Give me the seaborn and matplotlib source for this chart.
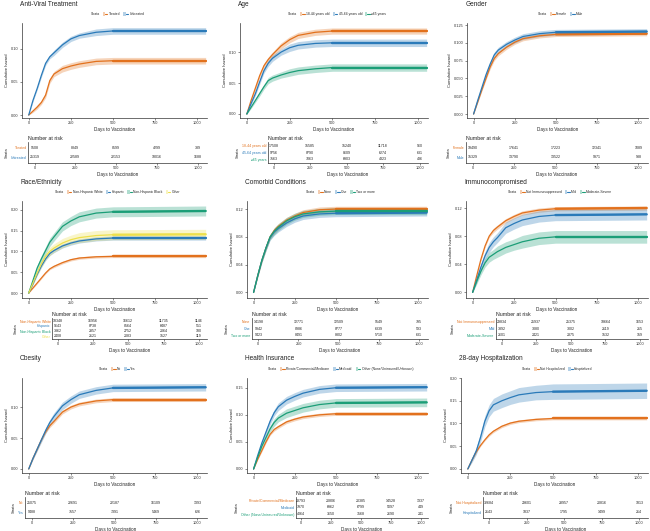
import numpy as np
import pandas as pd
import matplotlib
matplotlib.use('Agg')
import matplotlib.pyplot as plt
import seaborn as sns
from matplotlib.patches import Patch
from matplotlib.lines import Line2D
from matplotlib.legend_handler import HandlerTuple

sns.set_theme(style="ticks")
plt.rcParams['font.family'] = ['Liberation Sans', 'DejaVu Sans']

NAR = "#E2711D"
AZU = "#2A7AB9"
VER = "#1B9E77"
AMA = "#EDE04C"

# tiempos comunes para las curvas
dias = [0, 25, 50, 75, 100, 125, 150, 200, 250, 300, 400, 500, 1050]
tiempos_riesgo = [0, 250, 500, 750, 1000]

# 1 ANTI-VIRAL
av_estratos = ["Treated", "Untreated"]
av_haz = [[0, 0.006, 0.012, 0.019, 0.030, 0.052, 0.062, 0.070, 0.074, 0.077, 0.081, 0.082, 0.082],
          [0, 0.022, 0.040, 0.060, 0.078, 0.088, 0.094, 0.106, 0.115, 0.120, 0.125, 0.127, 0.127]]
av_ic = [[0, 0.002, 0.003, 0.003, 0.004, 0.004, 0.004, 0.005, 0.005, 0.005, 0.005, 0.005, 0.005],
         [0, 0.002, 0.002, 0.003, 0.003, 0.003, 0.004, 0.004, 0.004, 0.004, 0.005, 0.005, 0.005]]
av_riesgo = [[9508, 8849, 8599, 4299, 339], [25319, 22589, 22153, 18016, 1688]]

# 2 EDAD
ed_estratos = ["18-44 years old", "45-64 years old", "≥65 years"]
ed_haz = [[0, 0.022, 0.042, 0.062, 0.078, 0.088, 0.096, 0.110, 0.120, 0.127, 0.132, 0.134, 0.134],
          [0, 0.017, 0.033, 0.052, 0.070, 0.082, 0.090, 0.100, 0.107, 0.111, 0.114, 0.115, 0.115],
          [0, 0.011, 0.022, 0.033, 0.044, 0.054, 0.058, 0.063, 0.067, 0.070, 0.073, 0.075, 0.075]]
ed_ic = [[0, 0.002, 0.003, 0.003, 0.004, 0.004, 0.004, 0.005, 0.005, 0.005, 0.005, 0.005, 0.005],
         [0, 0.002, 0.003, 0.004, 0.004, 0.005, 0.005, 0.005, 0.006, 0.006, 0.006, 0.006, 0.006],
         [0, 0.002, 0.003, 0.004, 0.004, 0.005, 0.005, 0.005, 0.006, 0.006, 0.006, 0.006, 0.006]]
ed_riesgo = [[17508, 15585, 15240, 11718, 960], [9756, 8790, 8609, 6274, 631], [7563, 7063, 6903, 4323, 436]]

# 3 GENERO
ge_estratos = ["Female", "Male"]
ge_haz = [[0, 0.017, 0.034, 0.050, 0.066, 0.078, 0.085, 0.094, 0.101, 0.106, 0.110, 0.112, 0.113],
          [0, 0.019, 0.037, 0.055, 0.070, 0.083, 0.090, 0.098, 0.104, 0.109, 0.113, 0.115, 0.116]]
ge_ic = [[0, 0.001, 0.002, 0.002, 0.003, 0.003, 0.003, 0.003, 0.003, 0.003, 0.003, 0.003, 0.003],
         [0, 0.002, 0.002, 0.003, 0.003, 0.004, 0.004, 0.004, 0.004, 0.004, 0.004, 0.004, 0.004]]
ge_riesgo = [[19490, 17641, 17223, 12341, 1089], [15329, 13790, 13522, 9971, 938]]

# 4 RAZA
ra_estratos = ["Non-Hispanic White", "Hispanic", "Non-Hispanic Black", "Other"]
ra_haz = [[0, 0.012, 0.024, 0.036, 0.048, 0.058, 0.064, 0.073, 0.080, 0.084, 0.087, 0.088, 0.088],
          [0, 0.022, 0.045, 0.065, 0.082, 0.095, 0.102, 0.113, 0.120, 0.125, 0.130, 0.132, 0.132],
          [0, 0.030, 0.060, 0.082, 0.102, 0.122, 0.135, 0.160, 0.173, 0.183, 0.192, 0.195, 0.197],
          [0, 0.024, 0.048, 0.070, 0.088, 0.100, 0.108, 0.120, 0.128, 0.133, 0.138, 0.140, 0.141]]
ra_ic = [[0, 0.001, 0.002, 0.002, 0.002, 0.002, 0.003, 0.003, 0.003, 0.003, 0.003, 0.003, 0.003],
         [0, 0.002, 0.003, 0.004, 0.004, 0.005, 0.005, 0.005, 0.005, 0.005, 0.005, 0.005, 0.005],
         [0, 0.004, 0.006, 0.008, 0.009, 0.010, 0.010, 0.011, 0.011, 0.012, 0.012, 0.012, 0.012],
         [0, 0.004, 0.006, 0.008, 0.009, 0.010, 0.010, 0.011, 0.011, 0.012, 0.012, 0.012, 0.012]]
ra_riesgo = [[18348, 16956, 16612, 11735, 1146], [9643, 8738, 8564, 6487, 551],
             [3362, 2857, 2752, 2064, 180], [2408, 2121, 2083, 1527, 119]]

# 5 COMORBILIDADES
co_estratos = ["None", "One", "Two or more"]
co_haz = [[0, 0.024, 0.046, 0.064, 0.080, 0.089, 0.095, 0.104, 0.110, 0.115, 0.119, 0.120, 0.120],
          [0, 0.024, 0.046, 0.064, 0.079, 0.087, 0.092, 0.100, 0.106, 0.110, 0.113, 0.114, 0.115],
          [0, 0.024, 0.046, 0.064, 0.080, 0.088, 0.094, 0.103, 0.109, 0.113, 0.116, 0.117, 0.117]]
co_ic = [[0, 0.002, 0.003, 0.003, 0.003, 0.004, 0.004, 0.004, 0.004, 0.004, 0.004, 0.004, 0.004],
         [0, 0.002, 0.003, 0.004, 0.004, 0.005, 0.005, 0.005, 0.005, 0.005, 0.005, 0.005, 0.005],
         [0, 0.002, 0.003, 0.004, 0.004, 0.005, 0.005, 0.005, 0.005, 0.005, 0.005, 0.005, 0.005]]
co_riesgo = [[14198, 12771, 12509, 9549, 795], [9942, 8986, 8777, 6339, 593], [9423, 8491, 8302, 5710, 631]]

# 6 INMUNOCOMPROMETIDOS
in_estratos = ["Not Immunosuppressed", "Mild", "Moderate-Severe"]
in_haz = [[0, 0.024, 0.047, 0.066, 0.080, 0.088, 0.093, 0.102, 0.108, 0.113, 0.117, 0.119, 0.120],
          [0, 0.018, 0.036, 0.052, 0.064, 0.072, 0.078, 0.092, 0.098, 0.103, 0.108, 0.110, 0.111],
          [0, 0.016, 0.030, 0.042, 0.050, 0.054, 0.058, 0.064, 0.068, 0.072, 0.077, 0.079, 0.079]]
in_ic = [[0, 0.001, 0.002, 0.002, 0.002, 0.003, 0.003, 0.003, 0.003, 0.003, 0.003, 0.003, 0.003],
         [0, 0.004, 0.005, 0.006, 0.007, 0.007, 0.007, 0.008, 0.008, 0.008, 0.008, 0.008, 0.008],
         [0, 0.004, 0.005, 0.006, 0.007, 0.007, 0.008, 0.008, 0.008, 0.009, 0.009, 0.009, 0.009]]
in_riesgo = [[29834, 25937, 25375, 18664, 1653], [3392, 3080, 3002, 2119, 215], [2601, 2421, 2375, 1532, 159]]

# 7 OBESIDAD
ob_estratos = ["No", "Yes"]
ob_haz = [[0, 0.017, 0.032, 0.047, 0.060, 0.070, 0.077, 0.092, 0.100, 0.105, 0.110, 0.112, 0.112],
          [0, 0.017, 0.032, 0.047, 0.062, 0.075, 0.085, 0.102, 0.112, 0.120, 0.127, 0.131, 0.132]]
ob_ic = [[0, 0.001, 0.002, 0.002, 0.002, 0.003, 0.003, 0.003, 0.003, 0.003, 0.003, 0.003, 0.003],
         [0, 0.002, 0.003, 0.004, 0.005, 0.005, 0.006, 0.006, 0.006, 0.006, 0.006, 0.006, 0.006]]
ob_riesgo = [[25075, 22691, 22187, 16109, 1393], [9488, 7557, 7391, 5469, 626]]

# 8 SEGURO DE SALUD
se_estratos = ["Private/Commercial/Medicare", "Medicaid", "Other (None/Uninsured/Unknown)"]
se_haz = [[0, 0.018, 0.034, 0.050, 0.064, 0.073, 0.078, 0.087, 0.092, 0.096, 0.100, 0.102, 0.102],
          [0, 0.025, 0.048, 0.068, 0.088, 0.104, 0.115, 0.127, 0.134, 0.140, 0.147, 0.150, 0.151],
          [0, 0.022, 0.042, 0.058, 0.074, 0.086, 0.094, 0.103, 0.108, 0.113, 0.119, 0.122, 0.123]]
se_ic = [[0, 0.001, 0.002, 0.002, 0.002, 0.003, 0.003, 0.003, 0.003, 0.003, 0.003, 0.003, 0.003],
         [0, 0.003, 0.004, 0.005, 0.006, 0.006, 0.007, 0.007, 0.007, 0.007, 0.007, 0.007, 0.007],
         [0, 0.003, 0.004, 0.005, 0.006, 0.007, 0.007, 0.008, 0.008, 0.008, 0.008, 0.008, 0.008]]
se_riesgo = [[23793, 20806, 20385, 14528, 1337], [7970, 6962, 6799, 5097, 449], [4064, 3650, 3568, 2690, 241]]

# 9 HOSPITALIZACION 28 DIAS
ho_estratos = ["Not Hospitalized", "Hospitalized"]
ho_haz = [[0, 0.020, 0.038, 0.052, 0.064, 0.075, 0.083, 0.094, 0.101, 0.105, 0.109, 0.111, 0.111],
          [0, 0.020, 0.040, 0.070, 0.105, 0.128, 0.141, 0.150, 0.157, 0.163, 0.168, 0.170, 0.172]]
ho_ic = [[0, 0.001, 0.002, 0.002, 0.002, 0.003, 0.003, 0.003, 0.003, 0.003, 0.003, 0.003, 0.003],
         [0, 0.005, 0.008, 0.010, 0.012, 0.013, 0.014, 0.015, 0.015, 0.016, 0.016, 0.017, 0.017]]
ho_riesgo = [[32684, 29601, 28957, 20816, 1813], [2143, 1837, 1795, 1499, 214]]

paneles = [
    dict(titulo="Anti-Viral Treatment", estratos=av_estratos, haz=av_haz, ic=av_ic, riesgo=av_riesgo,
         colores=[NAR, AZU], yticks=[0, 0.05, 0.10], ylim=(-0.0045, 0.139), fmt="{:.2f}"),
    dict(titulo="Age", estratos=ed_estratos, haz=ed_haz, ic=ed_ic, riesgo=ed_riesgo,
         colores=[NAR, AZU, VER], yticks=[0, 0.05, 0.10], ylim=(-0.0065, 0.147), fmt="{:.2f}"),
    dict(titulo="Gender", estratos=ge_estratos, haz=ge_haz, ic=ge_ic, riesgo=ge_riesgo,
         colores=[NAR, AZU], yticks=[0, 0.025, 0.05, 0.075, 0.10, 0.125], ylim=(-0.0056, 0.128), fmt="{:.3f}"),
    dict(titulo="Race/Ethnicity", estratos=ra_estratos, haz=ra_haz, ic=ra_ic, riesgo=ra_riesgo,
         colores=[NAR, AZU, VER, AMA], yticks=[0, 0.05, 0.10, 0.15, 0.20], ylim=(-0.012, 0.221), fmt="{:.2f}"),
    dict(titulo="Comorbid Conditions", estratos=co_estratos, haz=co_haz, ic=co_ic, riesgo=co_riesgo,
         colores=[NAR, AZU, VER], yticks=[0, 0.04, 0.08, 0.12], ylim=(-0.008, 0.1316), fmt="{:.2f}"),
    dict(titulo="Immunocompromised", estratos=in_estratos, haz=in_haz, ic=in_ic, riesgo=in_riesgo,
         colores=[NAR, AZU, VER], yticks=[0, 0.04, 0.08, 0.12], ylim=(-0.008, 0.130), fmt="{:.2f}"),
    dict(titulo="Obesity", estratos=ob_estratos, haz=ob_haz, ic=ob_ic, riesgo=ob_riesgo,
         colores=[NAR, AZU], yticks=[0, 0.05, 0.10], ylim=(-0.0065, 0.147), fmt="{:.2f}"),
    dict(titulo="Health Insurance", estratos=se_estratos, haz=se_haz, ic=se_ic, riesgo=se_riesgo,
         colores=[NAR, AZU, VER], yticks=[0, 0.05, 0.10, 0.15], ylim=(-0.0074, 0.168), fmt="{:.2f}"),
    dict(titulo="28-day Hospitalization", estratos=ho_estratos, haz=ho_haz, ic=ho_ic, riesgo=ho_riesgo,
         colores=[NAR, AZU], yticks=[0, 0.05, 0.10, 0.15, 0.20], ylim=(-0.0088, 0.200), fmt="{:.2f}"),
]

# GEOMETRIA EN PIXELES
W, H = 650, 531
col_der = [207, 428, 648]
plot_izq = [22, 240, 467, 22, 247, 466, 22, 247, 461]
filas_plot = [(23, 118), (201, 298), (378, 473)]
tabla_izq = [28, 268, 466, 52, 252, 496, 25, 296, 483]
filas_tabla = [(142, 163), (318, 339), (497, 518)]
XLIM = (-40, 1058)

fig = plt.figure(figsize=(W / 100, H / 100), dpi=100)


def caja(izq, arriba, der, abajo):
    return fig.add_axes([izq / W, 1 - abajo / H, (der - izq) / W, (abajo - arriba) / H])


def estilo(ax):
    for s in ['top', 'right']:
        ax.spines[s].set_visible(False)
    for s in ['left', 'bottom']:
        ax.spines[s].set_linewidth(0.5)
        ax.spines[s].set_color('#333333')
    ax.tick_params(labelsize=2.8, length=1.5, width=0.4, pad=1, colors='#333333')
    ax.set_xlim(XLIM)
    ax.set_xticks(tiempos_riesgo)


for i, p in enumerate(paneles):
    r, c = i // 3, i % 3
    arriba, abajo = filas_plot[r]
    alto = abajo - arriba
    ax = caja(plot_izq[i], arriba, col_der[c], abajo)

    filas = []
    for est, h in zip(p['estratos'], p['haz']):
        for t, v in zip(dias, h):
            filas.append((t, v, est))
    df = pd.DataFrame(filas, columns=['dias', 'haz', 'estrato'])

    for est, h, e, col in zip(p['estratos'], p['haz'], p['ic'], p['colores']):
        h, e = np.array(h), np.array(e)
        ax.fill_between(dias, h - e, h + e, color=col, alpha=0.3, lw=0)
    sns.lineplot(data=df, x='dias', y='haz', hue='estrato', hue_order=p['estratos'],
                 palette=p['colores'], lw=0.9, legend=False, estimator=None, ax=ax)
    # tramo censurado (marcas densas)
    sns.lineplot(data=df[df['dias'] >= 500], x='dias', y='haz', hue='estrato', hue_order=p['estratos'],
                 palette=p['colores'], lw=1.7, legend=False, estimator=None, ax=ax)

    estilo(ax)
    ax.set_ylim(p['ylim'])
    ax.set_yticks(p['yticks'])
    ax.set_yticklabels([p['fmt'].format(v) for v in p['yticks']])
    ax.set_xlabel('Days to Vaccination', fontsize=3.3, labelpad=1, color='#222222')
    ax.set_ylabel('Cumulative hazard', fontsize=2.9, labelpad=1.5, color='#222222')
    ax.text(-0.01, 1 + 19 / alto, p['titulo'], transform=ax.transAxes, fontsize=4.7,
            ha='left', va='center', color='#222222')

    handles = [Line2D([], [], alpha=0)] + [
        (Patch(facecolor=col, alpha=0.35, edgecolor='none'), Line2D([], [], color=col, lw=0.8))
        for col in p['colores']]
    ax.legend(handles, ['Strata'] + p['estratos'], loc='center', bbox_to_anchor=(0.5, 1 + 9 / alto),
              ncol=len(handles), frameon=False, fontsize=2.4, handlelength=1.4, handleheight=1.2,
              columnspacing=0.9, handletextpad=0.4, borderpad=0,
              handler_map={tuple: HandlerTuple(ndivide=None)})

    # TABLA NUMBER AT RISK
    t_arriba, t_abajo = filas_tabla[r]
    tb = caja(tabla_izq[i], t_arriba, col_der[c], t_abajo)
    n = len(p['estratos'])
    for k, fila in enumerate(p['riesgo']):
        for t, v in zip(tiempos_riesgo, fila):
            tb.text(t, k, str(v), ha='center', va='center', fontsize=2.6, color='#222222')
    estilo(tb)
    tb.set_ylim(n - 0.4, -0.6)
    tb.set_yticks(range(n))
    tb.set_yticklabels(p['estratos'], fontsize=2.5)
    for lab, col in zip(tb.get_yticklabels(), p['colores']):
        lab.set_color(col)
    tb.tick_params(axis='y', length=0, pad=1)
    tb.set_xlabel('Days to Vaccination', fontsize=3.3, labelpad=1, color='#222222')
    tb.set_ylabel('Strata', fontsize=2.9, labelpad=1.5, color='#222222')
    tb.set_title('Number at risk', loc='left', fontsize=3.8, pad=1.5, color='#222222')

fig.savefig('out.png', dpi=100)
